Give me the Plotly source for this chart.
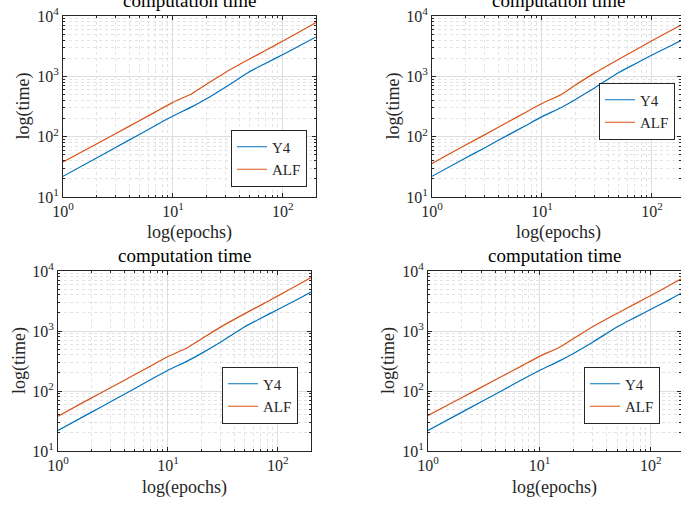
import plotly.graph_objects as go

epochs = [1, 2, 3, 5, 7, 10, 15, 20, 30, 50, 70, 100, 150, 200]

y4_p1 = [22, 44, 66, 110, 155, 220, 315, 420, 660, 1200, 1650, 2300, 3400, 4500]
alf_p1 = [38, 75, 112, 185, 260, 370, 520, 730, 1160, 1950, 2700, 3850, 5800, 7800]

y4_p2 = [22, 44, 65, 108, 150, 215, 305, 410, 640, 1160, 1600, 2250, 3250, 4250]
alf_p2 = [36, 72, 107, 178, 250, 355, 500, 710, 1130, 1920, 2700, 3900, 5800, 7700]

y4_p3 = [22, 44, 66, 110, 155, 222, 315, 420, 650, 1180, 1630, 2280, 3350, 4450]
alf_p3 = [38, 76, 113, 188, 262, 375, 525, 730, 1160, 1950, 2700, 3850, 5800, 7800]

y4_p4 = [22, 44, 66, 110, 155, 220, 315, 418, 650, 1180, 1640, 2300, 3400, 4550]
alf_p4 = [39, 77, 115, 190, 265, 378, 530, 740, 1180, 1980, 2750, 3900, 5900, 7900]

series_names = ["Y4", "ALF"]
title_text = "computation time"
x_title = "log(epochs)"
y_title = "log(time)"

BLUE = "#0072BD"
ORANGE = "#D95319"
FONT = "Liberation Serif, DejaVu Serif, serif"
W, H = 681, 505

def px_x(p):
    return p / W

def px_y(p):
    return 1 - p / H

# plot areas in page pixels: (left, right, top, bottom) and x range end (log10)
areas = [
    (63, 316, 16, 197, 2.30103),
    (432, 681, 16, 197, 2.264),
    (58, 311, 271, 451, 2.30103),
    (428, 681, 271, 451, 2.27),
]
legend_pos = [(307, 158), (675, 111), (298, 395), (660, 395)]
ytitle_x = [23, 393, 19, 388]

data = [(y4_p1, alf_p1), (y4_p2, alf_p2), (y4_p3, alf_p3), (y4_p4, alf_p4)]

x_minor = [2, 3, 4, 5, 6, 7, 8, 9, 20, 30, 40, 50, 60, 70, 80, 90, 200]
y_minor = [m * d for d in (10, 100, 1000) for m in range(2, 10)]

fig = go.Figure()
annotations = []
layout = {}
for i, ((l, r, t, b, xr), (y4, alf)) in enumerate(zip(areas, data)):
    k = "" if i == 0 else str(i + 1)
    lg = "legend" if i == 0 else "legend" + str(i + 1)
    fig.add_trace(go.Scatter(x=epochs, y=y4, mode="lines", name=series_names[0],
                             line=dict(color=BLUE, width=1.2, shape="spline", smoothing=0.5),
                             xaxis="x" + k, yaxis="y" + k, legend=lg))
    fig.add_trace(go.Scatter(x=epochs, y=alf, mode="lines", name=series_names[1],
                             line=dict(color=ORANGE, width=1.2, shape="spline", smoothing=0.5),
                             xaxis="x" + k, yaxis="y" + k, legend=lg))
    axcommon = dict(type="log", showline=True, linecolor="#262626", linewidth=1,
                    mirror="ticks", ticks="inside", ticklen=4, tickcolor="#262626",
                    showgrid=True, gridcolor="#dedede", gridwidth=1, zeroline=False,
                    automargin=False, ticklabeloverflow="allow",
                    tickfont=dict(family=FONT, size=16, color="#262626"))
    layout["xaxis" + k] = dict(axcommon, domain=[px_x(l), px_x(r)],
                               range=[0, xr], anchor="y" + k,
                               tickmode="array", tickvals=[1, 10, 100],
                               ticktext=["10<sup>0</sup>", "10<sup>1</sup>", "10<sup>2</sup>"],
                               minor=dict(tickmode="array", tickvals=x_minor, showgrid=True,
                                          gridcolor="#e3e3e3", griddash="dot", gridwidth=1,
                                          ticks="inside", ticklen=2, tickcolor="#262626"))
    layout["yaxis" + k] = dict(axcommon, domain=[px_y(b), px_y(t)],
                               range=[1, 4], anchor="x" + k,
                               tickmode="array", tickvals=[10, 100, 1000, 10000],
                               ticktext=["10<sup>1</sup>", "10<sup>2</sup>", "10<sup>3</sup>", "10<sup>4</sup>"],
                               minor=dict(tickmode="array", tickvals=y_minor, showgrid=True,
                                          gridcolor="#e3e3e3", griddash="dot", gridwidth=1,
                                          ticks="inside", ticklen=2, tickcolor="#262626"))
    lx, ly = legend_pos[i]
    layout[lg] = dict(x=px_x(lx), y=px_y(ly), xanchor="right", yanchor="middle",
                      bgcolor="white", bordercolor="#262626", borderwidth=1,
                      font=dict(family=FONT, size=15, color="#262626"),
                      tracegroupgap=0, itemwidth=30)
    cx = (l + r) / 2 if i in (0, 2) else (l + l + 253) / 2
    annotations.append(dict(text=title_text, x=px_x(cx), y=px_y(t - 3), xref="paper", yref="paper",
                            xanchor="center", yanchor="bottom", showarrow=False,
                            font=dict(family=FONT, size=19, color="black")))
    annotations.append(dict(text=x_title, x=px_x(cx), y=px_y(b + 36), xref="paper", yref="paper",
                            xanchor="center", yanchor="middle", showarrow=False,
                            font=dict(family=FONT, size=18, color="#262626")))
    annotations.append(dict(text=y_title, x=px_x(ytitle_x[i]), y=px_y((t + b) / 2), xref="paper", yref="paper",
                            xanchor="center", yanchor="middle", showarrow=False, textangle=-90,
                            font=dict(family=FONT, size=18, color="#262626")))

fig.update_layout(**layout)
fig.update_layout(width=W, height=H, margin=dict(l=0, r=0, t=0, b=0, autoexpand=False),
                  template="none",
                  paper_bgcolor="white", plot_bgcolor="white",
                  annotations=annotations)
fig.write_html("out.html", config={"displayModeBar": False},
               post_script="document.body.style.margin='0';")
